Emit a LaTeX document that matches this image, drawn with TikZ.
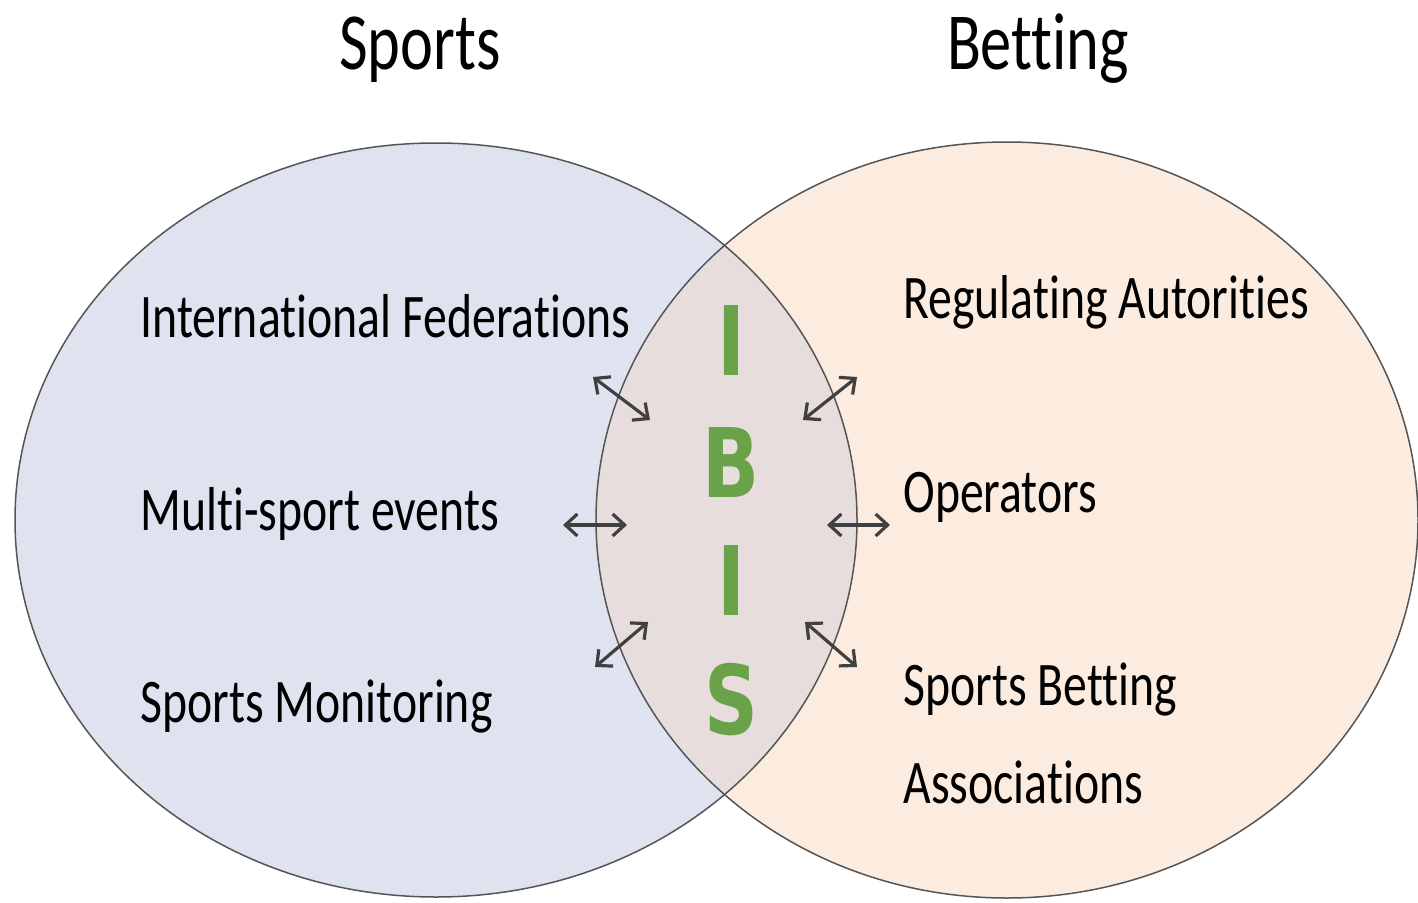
\documentclass[tikz,border=0pt]{standalone}
\usepackage{fontspec}
\setmainfont[FakeStretch=0.77, Ligatures=NoCommon]{Carlito}
\newfontfamily\ibisfont[FakeStretch=0.78]{DejaVu Sans}
\usepackage{tikz}
\usetikzlibrary{arrows.meta, positioning}

\definecolor{sportsfill}{RGB}{223,227,240}
\definecolor{betfill}{RGB}{252,236,224}
\definecolor{bothfill}{RGB}{231,221,220}
\definecolor{rimgray}{RGB}{85,85,85}
\definecolor{arrowgray}{RGB}{64,64,64}
\definecolor{ibisgreen}{RGB}{106,162,74}

\tikzset{
  title/.style = {anchor=base, inner sep=0pt, font=\fontsize{40.5}{46}\selectfont},
  item/.style  = {anchor=base west, inner sep=0pt, font=\fontsize{31}{37}\selectfont},
  ibis/.style  = {anchor=base, inner sep=0pt, text=ibisgreen, font=\ibisfont\bfseries\fontsize{48}{52}\selectfont},
  link/.style  = {<->, line width=1.6pt, draw=arrowgray},
}

\begin{document}
\begin{tikzpicture}[x=0.5pt, y=0.5pt, > = {Straight Barb[length=6pt, width=11pt]}]
  \useasboundingbox (0,0) rectangle (1418,902);

  % os dois conjuntos
  \fill[sportsfill] (436,382) ellipse [x radius=421, y radius=377];
  \fill[betfill] (1007,382) ellipse [x radius=411, y radius=378];
  % intersecao
  \begin{scope}
    \clip (436,382) ellipse [x radius=421, y radius=377];
    \fill[bothfill] (1007,382) ellipse [x radius=411, y radius=378];
  \end{scope}
  \draw[rimgray, line width=0.75pt] (436,382) ellipse [x radius=421, y radius=377];
  \draw[rimgray, line width=0.75pt] (1007,382) ellipse [x radius=411, y radius=378];

  % titulos
  \node[title] (sports) at (420,832) {Sports};
  \node[title] (betting) at (1038,832) {Betting};

  % lado esquerdo
  \node[item] (fed) at (140,565) {International Federations};
  \node[item] (multi) at (140,372) {Multi-sport events};
  \node[item] (monit) at (140,180) {Sports Monitoring};

  % lado direito
  \node[item] (reg) at (903,584) {Regulating Autorities};
  \node[item] (oper) at (903,390) {Operators};
  \node[item] (sba) at (903,197) {Sports Betting};
  \node[item] (assoc) at (903,99) {Associations};

  % IBIS
  \node[ibis] (i1) at (731,527) {I};
  \node[ibis] (b) at (731,405) {B};
  \node[ibis] (i2) at (731,287) {I};
  \node[ibis] (s) at (731,168) {S};

  % setas
  \coordinate (ulA) at (593,525); \coordinate (ulB) at (650,482);
  \coordinate (urA) at (857,525); \coordinate (urB) at (803,482);
  \coordinate (mlA) at (563,377); \coordinate (mlB) at (627,377);
  \coordinate (mrA) at (827,377); \coordinate (mrB) at (890,377);
  \coordinate (llA) at (595,235); \coordinate (llB) at (648,280);
  \coordinate (lrA) at (857,235); \coordinate (lrB) at (805,280);
  \draw[link] (ulA) -- (ulB);
  \draw[link] (urA) -- (urB);
  \draw[link] (mlA) -- (mlB);
  \draw[link] (mrA) -- (mrB);
  \draw[link] (llA) -- (llB);
  \draw[link] (lrA) -- (lrB);
\end{tikzpicture}
\end{document}
